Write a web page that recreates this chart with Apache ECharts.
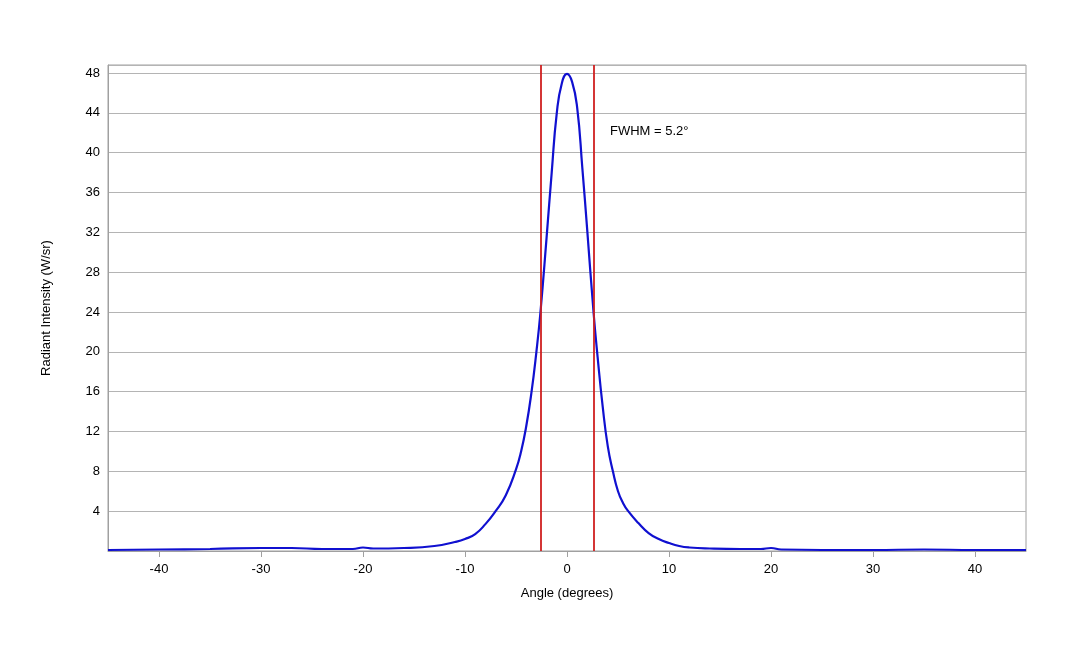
<!DOCTYPE html>
<html>
<head>
<meta charset="utf-8">
<script src="https://cdn.jsdelivr.net/npm/echarts@6/dist/echarts.min.js"></script>
<style>html,body{margin:0;background:#fff}#main{width:1080px;height:648px}</style>
</head>
<body>
<div id="main"></div>
<script>
// angle (degrees) and radiant intensity (W/sr)
var angles = [-45, -40, -35, -30, -27, -24, -21, -20, -19, -16, -13, -11, -10, -9, -8, -7, -6, -5, -4.5, -4, -3.5, -3, -2.6, -2, -1.5, -1, -0.5, 0,
    0.5, 1, 1.5, 2, 2.6, 3, 3.5, 4, 4.5, 5, 5.5, 6, 7, 8, 9, 10, 11, 12, 14, 17, 19, 20, 21, 25, 30, 35, 40, 45];
var intensity = [0.1, 0.15, 0.2, 0.3, 0.3, 0.2, 0.2, 0.35, 0.25, 0.3, 0.5, 0.9, 1.2, 1.7, 2.7, 4.0, 5.6, 8.2, 10, 12.5, 15.8, 20, 24, 31.5, 38, 44, 47, 47.9,
    47.1, 44.5, 38.5, 32, 24, 19.5, 14.5, 10.5, 8, 6, 4.8, 4, 2.8, 1.8, 1.2, 0.8, 0.5, 0.35, 0.25, 0.2, 0.2, 0.3, 0.15, 0.1, 0.1, 0.15, 0.1, 0.1];
var xTicks = [-40, -30, -20, -10, 0, 10, 20, 30, 40];
var fwhmLines = [-2.6, 2.6];
var fwhmText = 'FWHM = 5.2°';

var chart = echarts.init(document.getElementById('main'));
var data = angles.map(function (a, i) { return [a, intensity[i]]; });
var font = 'Liberation Sans';
chart.setOption({
    animation: false,
    grid: { left: 108, right: 54, top: 65, bottom: 97, show: true, borderColor: '#a0a0a0', borderWidth: 1 },
    xAxis: {
        type: 'value', min: -45, max: 45,
        name: 'Angle (degrees)', nameLocation: 'middle', nameGap: 36,
        nameTextStyle: { color: '#000', fontSize: 13, fontFamily: font },
        axisLine: { lineStyle: { color: '#a0a0a0' } },
        axisTick: { show: true, customValues: xTicks, length: 6, lineStyle: { color: '#a0a0a0' } },
        axisLabel: { customValues: xTicks, color: '#000', fontSize: 13, fontFamily: font, margin: 12 },
        splitLine: { show: false }
    },
    yAxis: {
        type: 'value', min: 0, max: 48.8, interval: 4,
        name: 'Radiant Intensity (W/sr)', nameLocation: 'middle', nameGap: 55,
        nameTextStyle: { color: '#000', fontSize: 13, fontFamily: font },
        axisLine: { show: true, onZero: false, lineStyle: { color: '#a0a0a0' } },
        axisTick: { show: false },
        axisLabel: {
            color: '#000', fontSize: 13, fontFamily: font, showMaxLabel: false,
            formatter: function (v) { return v === 0 ? '' : v; }
        },
        splitLine: { lineStyle: { color: '#b4b4b4' } }
    },
    series: [{
        type: 'line', data: data, smooth: true, symbol: 'none',
        lineStyle: { color: '#1010d0', width: 2.2 },
        markLine: {
            silent: true, symbol: 'none', label: { show: false },
            lineStyle: { color: '#d02020', width: 1.8, type: 'solid' },
            data: fwhmLines.map(function (v) { return { xAxis: v }; })
        }
    }],
    graphic: [{
        type: 'text', left: 610, top: 125,
        style: { text: fwhmText, fill: '#000', fontSize: 13, fontFamily: font }
    }]
});
</script>
</body>
</html>
